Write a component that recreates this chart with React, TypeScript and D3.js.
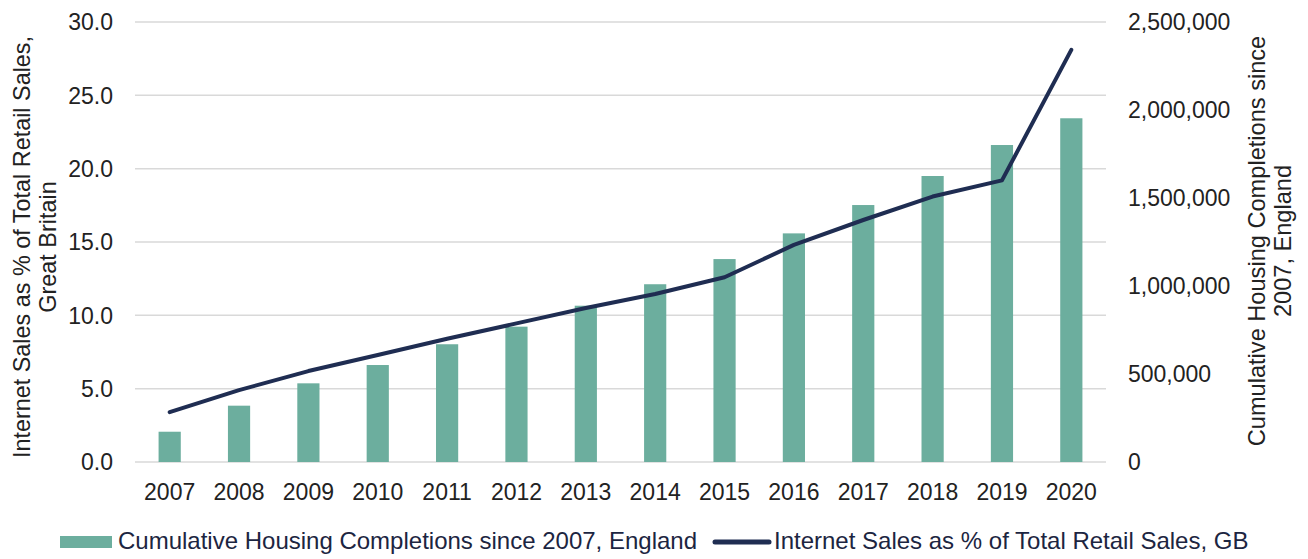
import React from "react";
import * as d3 from "d3";

const years = ["2007","2008","2009","2010","2011","2012","2013","2014","2015","2016","2017","2018","2019","2020"];
const housing = [172000,320000,447000,551000,669000,769000,888000,1010000,1153000,1299000,1460000,1625000,1801000,1953000];
const internetPct = [3.4,4.9,6.2,7.3,8.4,9.45,10.5,11.45,12.6,14.8,16.5,18.1,19.2,28.1];
const leftTicks = [0,5,10,15,20,25,30];
const rightTicks = [0,500000,1000000,1500000,2000000,2500000];

const W = 1308, H = 559;
const left = 135, right = 1106, top = 22, bottom = 462;
const font = "Arial, 'Liberation Sans', sans-serif";
const barColor = "#6cae9e";
const lineColor = "#1f2d52";
const textColor = "#222";

export default function App() {
  const x = d3.scaleBand<string>().domain(years).range([left, right]).paddingInner(0.68).paddingOuter(0.34);
  const yL = d3.scaleLinear().domain([0, 30]).range([bottom, top]);
  const yR = d3.scaleLinear().domain([0, 2500000]).range([bottom, top]);
  const fmtR = d3.format(",");
  const line = d3.line<number>()
    .x((_, i) => (x(years[i]) as number) + x.bandwidth() / 2)
    .y((d) => yL(d));
  return (
    <svg width={W} height={H} style={{ position: "absolute", left: 0, top: 0, background: "#fff" }} fontFamily={font}>
      {leftTicks.map((t) => (
        <line key={"g" + t} x1={left} x2={right} y1={yL(t)} y2={yL(t)} stroke="#d9d9d9" strokeWidth={1.5} />
      ))}
      {housing.map((v, i) => (
        <rect key={"b" + i} x={x(years[i])} y={yR(v)} width={x.bandwidth()} height={bottom - yR(v)} fill={barColor} />
      ))}
      <path d={line(internetPct) || ""} fill="none" stroke={lineColor} strokeWidth={4} strokeLinejoin="round" strokeLinecap="round" />
      {leftTicks.map((t) => (
        <text key={"lt" + t} x={113} y={yL(t)} dy="0.36em" textAnchor="end" fontSize={23} fill={textColor}>{t.toFixed(1)}</text>
      ))}
      {rightTicks.map((t) => (
        <text key={"rt" + t} x={1128} y={yR(t)} dy="0.36em" textAnchor="start" fontSize={23} fill={textColor}>{fmtR(t)}</text>
      ))}
      {years.map((yv) => (
        <text key={"x" + yv} x={(x(yv) as number) + x.bandwidth() / 2} y={500} textAnchor="middle" fontSize={23} fill={textColor}>{yv}</text>
      ))}
      <g transform="translate(22,247) rotate(-90)">
        <text x={0} y={0} dy="0.36em" textAnchor="middle" fontSize={23.4} fill={textColor}>Internet Sales as % of Total Retail Sales,</text>
        <text x={0} y={26} dy="0.36em" textAnchor="middle" fontSize={23.4} fill={textColor}>Great Britain</text>
      </g>
      <g transform="translate(1256,241) rotate(-90)">
        <text x={0} y={0} dy="0.36em" textAnchor="middle" fontSize={23.6} fill={textColor}>Cumulative Housing Completions since</text>
        <text x={0} y={27} dy="0.36em" textAnchor="middle" fontSize={23.6} fill={textColor}>2007, England</text>
      </g>
      <rect x={60} y={536} width={52} height={12} fill={barColor} />
      <text x={118} y={549} fontSize={24} fill="#1c2541">Cumulative Housing Completions since 2007, England</text>
      <line x1={715} x2={769} y1={542} y2={542} stroke={lineColor} strokeWidth={5} strokeLinecap="round" />
      <text x={774} y={549} fontSize={24} fill="#1c2541">Internet Sales as % of Total Retail Sales, GB</text>
    </svg>
  );
}
